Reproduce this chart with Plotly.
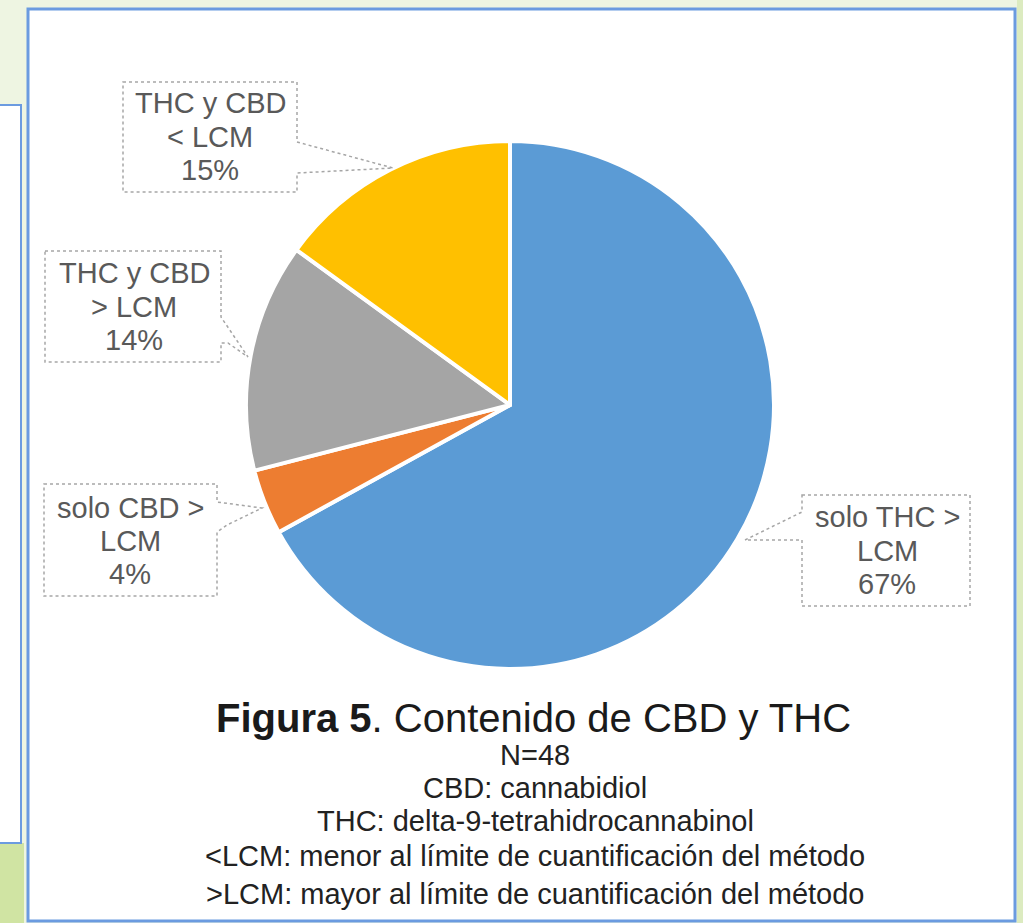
import plotly.graph_objects as go

# ---- data ----
categories = ["solo THC > LCM", "solo CBD > LCM", "THC y CBD > LCM", "THC y CBD < LCM"]
values = [67, 4, 14, 15]
colors = ["#5b9bd5", "#ed7d31", "#a5a5a5", "#ffc000"]
label_lines = [["solo THC >", "LCM", "67%"],
               ["solo CBD >", "LCM", "4%"],
               ["THC y CBD", "> LCM", "14%"],
               ["THC y CBD", "< LCM", "15%"]]
title_text = "<b>Figura 5</b>. Contenido de CBD y THC"
caption_lines = ["N=48", "CBD: cannabidiol", "THC: delta-9-tetrahidrocannabinol",
                 "<LCM: menor al límite de cuantificación del método",
                 ">LCM: mayor al límite de cuantificación del método"]

W, H = 1023, 923
FONT = "Liberation Sans, Arial, sans-serif"

# pie geometry (pixels)
cx, cy, r = 510, 405, 264

fig = go.Figure()
fig.add_trace(go.Pie(
    labels=categories, values=values, sort=False, direction="clockwise", rotation=0,
    marker=dict(colors=colors, line=dict(color="white", width=4)),
    textinfo="none", hoverinfo="label+percent", showlegend=False,
    domain=dict(x=[(cx - r) / W, (cx + r) / W], y=[1 - (cy + r) / H, 1 - (cy - r) / H]),
))

shapes = []
# background pieces
shapes.append(dict(type="rect", xref="x", yref="y", x0=-5, x1=24, y0=843, y1=930,
                   fillcolor="#d0e4a3", line=dict(width=0), layer="below"))
shapes.append(dict(type="rect", xref="x", yref="y", x0=1017, x1=1030, y0=-5, y1=930,
                   fillcolor="#dcebc0", line=dict(width=0), layer="below"))
# left panel
shapes.append(dict(type="rect", xref="x", yref="y", x0=-5, x1=21, y0=105, y1=843,
                   fillcolor="white", line=dict(color="#6b9be0", width=2), layer="below"))
# main panel
shapes.append(dict(type="rect", xref="x", yref="y", x0=28, x1=1015, y0=9, y1=921,
                   fillcolor="white", line=dict(color="#6b9be0", width=3), layer="below"))

# callout boxes (label boxes with pointer wedges)
callouts = [
    "M802,495 L970,495 L970,606 L802,606 L802,540 L745,540 L802,512 Z",
    "M44,484 L217,484 L217,502 L262,508 L227,525 L217,532 L217,596 L44,596 Z",
    "M45,251 L221,251 L221,317 L248,357 L228,343 L221,343 L221,362 L45,362 Z",
    "M123,82 L297,82 L297,142 L393,168 L297,173 L297,192 L123,192 Z",
]
for p in callouts:
    shapes.append(dict(type="path", xref="x", yref="y", path=p, fillcolor="white",
                       line=dict(color="#a6a6a6", width=1.5, dash="dot"), layer="above"))

annotations = []
label_pos = [(887, [517, 551, 584]), (130, [508, 541, 574]),
             (134, [273, 307, 340]), (210, [103, 137, 170])]
for lines, (lx, ys) in zip(label_lines, label_pos):
    for t, yy in zip(lines, ys):
        annotations.append(dict(x=lx, y=yy, xref="x", yref="y", text=t, showarrow=False,
                                xanchor="center", yanchor="middle",
                                font=dict(family=FONT, size=29, color="#595959")))

annotations.append(dict(x=533, y=718, xref="x", yref="y", text=title_text, showarrow=False,
                        xanchor="center", yanchor="middle",
                        font=dict(family=FONT, size=40, color="#1a1a1a")))
cap_y = [755, 788, 821, 856, 894]
for t, yy in zip(caption_lines, cap_y):
    annotations.append(dict(x=535, y=yy, xref="x", yref="y", text=t, showarrow=False,
                            xanchor="center", yanchor="middle",
                            font=dict(family=FONT, size=29, color="#222222")))

fig.update_layout(
    width=W, height=H, margin=dict(l=0, r=0, t=0, b=0),
    paper_bgcolor="#eef5e2", plot_bgcolor="rgba(0,0,0,0)",
    xaxis=dict(range=[0, W], visible=False, fixedrange=True, domain=[0, 1]),
    yaxis=dict(range=[H, 0], visible=False, fixedrange=True, domain=[0, 1]),
    shapes=shapes, annotations=annotations,
)
fig.write_html("out.html")
